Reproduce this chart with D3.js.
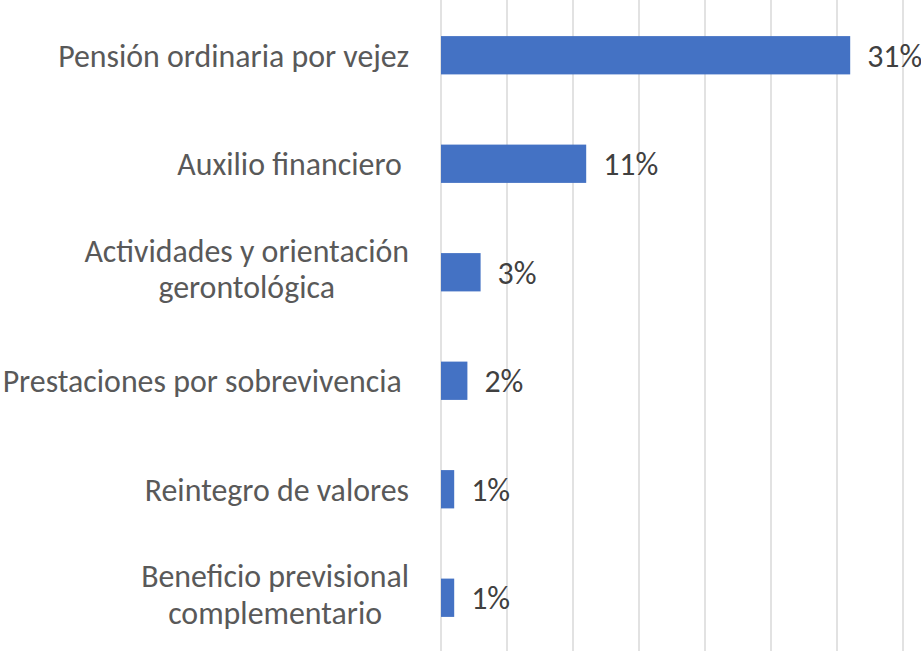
<!DOCTYPE html>
<html lang="es">
<head>
<meta charset="UTF-8">
<title>Prestaciones</title>
<script src="https://cdn.jsdelivr.net/npm/d3@7"></script>
<style>
    html, body { margin: 0; padding: 0; background: #fff; }
    svg { display: block; }
    text { font-family: Carlito, Calibri, "Open Sans", sans-serif; white-space: pre; }
</style>
</head>
<body>
<svg width="921" height="651"></svg>
<script>
    // categories (line breaks as in the original chart)
    var categories = [
        ["Pensión ordinaria por vejez"],
        ["Auxilio financiero "],
        ["Actividades y orientación", "gerontológica"],
        ["Prestaciones por sobrevivencia "],
        ["Reintegro de valores"],
        ["Beneficio previsional", "complementario"]
    ];
    var values = [31, 11, 3, 2, 1, 1];
    var valueLabels = ["31%", "11%", "3%", "2%", "1%", "1%"];
    var gridTicks = [0, 5, 10, 15, 20, 25, 30, 35];

    var svg = d3.select("svg"),
        width = +svg.attr("width"),
        height = +svg.attr("height");

    var lineHeight = 36.5;
    var labelRight = 409;

    // pick a font size so the widest one-line label is as wide as in the original
    var probe = svg.append("text").attr("font-size", 100).text(categories[0][0]);
    var fontSize = 100 * 351 / probe.node().getComputedTextLength();
    probe.remove();

    var x = d3.scaleLinear().domain([0, 35]).range([441, 903]);
    var y = d3.scaleBand()
        .domain(d3.range(categories.length))
        .range([1, 652])
        .paddingInner(0.647)
        .paddingOuter(0.3235);

    // vertical gridlines
    svg.append("g")
        .selectAll("line")
        .data(gridTicks)
        .enter().append("line")
        .attr("x1", function(d) { return x(d); })
        .attr("x2", function(d) { return x(d); })
        .attr("y1", 0)
        .attr("y2", height)
        .attr("stroke", "#d9d9d9")
        .attr("stroke-width", 1.5);

    // bars
    svg.append("g")
        .selectAll("rect")
        .data(values)
        .enter().append("rect")
        .attr("x", x(0))
        .attr("y", function(d, i) { return y(i); })
        .attr("width", function(d) { return x(d) - x(0); })
        .attr("height", y.bandwidth())
        .attr("fill", "#4472c4");

    // value labels
    svg.append("g")
        .selectAll("text")
        .data(values)
        .enter().append("text")
        .attr("x", function(d) { return x(d) + 17; })
        .attr("y", function(d, i) { return y(i) + y.bandwidth() / 2; })
        .attr("dy", "0.36em")
        .attr("font-size", fontSize)
        .attr("fill", "#404040")
        .text(function(d, i) { return valueLabels[i]; });

    // category labels
    var labels = svg.append("g")
        .selectAll("text")
        .data(categories)
        .enter().append("text")
        .attr("font-size", fontSize)
        .attr("fill", "#595959");

    labels.each(function(lines, i) {
        var t = d3.select(this);
        var cy = y(i) + y.bandwidth() / 2;
        var n = lines.length;
        var tspans = lines.map(function(line, k) {
            return t.append("tspan")
                .attr("y", cy - (n - 1) * lineHeight / 2 + k * lineHeight - (n - 1) * 3.5)
                .attr("dy", "0.36em")
                .text(line);
        });
        if (n === 1) {
            tspans[0].attr("x", labelRight).attr("text-anchor", "end");
        } else {
            var maxW = d3.max(tspans, function(s) { return s.node().getComputedTextLength(); });
            tspans.forEach(function(s) {
                s.attr("x", labelRight - maxW / 2).attr("text-anchor", "middle");
            });
        }
    });
</script>
</body>
</html>
